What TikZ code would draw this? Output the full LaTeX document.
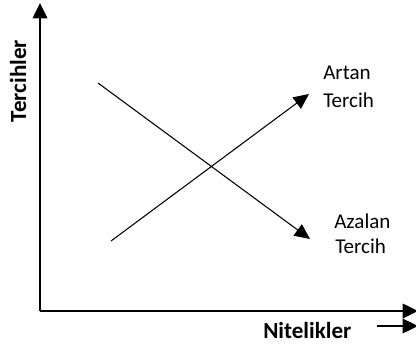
\documentclass[tikz,border=0pt]{standalone}
\usepackage{fontspec}
\setmainfont{Carlito}
\usetikzlibrary{arrows.meta}
\begin{document}
\begin{tikzpicture}[x=0.75pt,y=-0.75pt,
  axis/.style={line width=1.1pt,-{Triangle[length=11.5pt,width=11pt]}},
  diag/.style={line width=0.8pt,-{Triangle[length=11.5pt,width=10.5pt]}},
  lbl/.style={inner sep=0pt,anchor=base west,font=\fontsize{15.8}{18}\selectfont},
  blbl/.style={inner sep=0pt,font=\fontsize{17.3}{20}\selectfont\bfseries}]
\useasboundingbox (0,0) rectangle (416,347);
\coordinate (o) at (40,311);
\coordinate (ytop) at (40,3);
\coordinate (xend) at (418,311);
\coordinate (d1s) at (98,83);
\coordinate (d1e) at (310,239);
\coordinate (d2s) at (111,241);
\coordinate (d2e) at (309,94);
\coordinate (sa) at (377,326);
\coordinate (sb) at (418,326);
\draw[axis] (o) -- (ytop);
\draw[axis] (o) -- (xend);
\draw[diag] (d1s) -- (d1e);
\draw[diag] (d2s) -- (d2e);
\draw[axis,line width=0.9pt] (sa) -- (sb);
\node[lbl] (artan) at (323,79) {Artan};
\node[lbl] (tercih1) at (323,107) {Tercih};
\node[lbl] (azalan) at (334,228) {Azalan};
\node[lbl] (tercih2) at (335,253) {Tercih};
\node[blbl,anchor=base west] (nit) at (263,338) {Nitelikler};
\node[blbl,rotate=90,anchor=base] (ter) at (26,81) {Tercihler};
\end{tikzpicture}
\end{document}
